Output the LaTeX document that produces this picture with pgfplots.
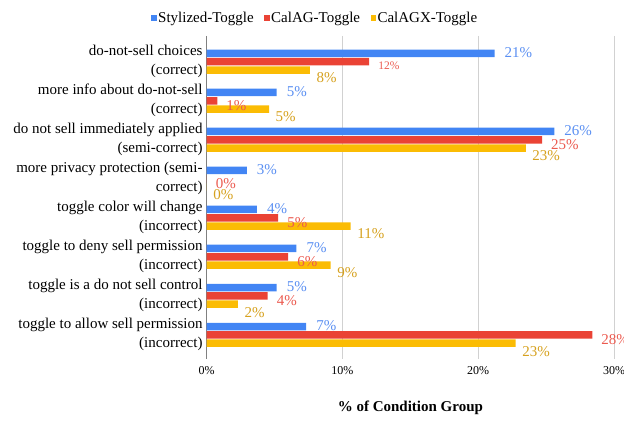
\documentclass[border=0pt]{standalone}
\usepackage{fontspec}
\setmainfont{Liberation Serif}
\usepackage{pgfplots}
\pgfplotsset{compat=1.18}
\definecolor{cblue}{HTML}{4285F4}
\definecolor{cred}{HTML}{EA4335}
\definecolor{cyel}{HTML}{FBBC04}
\definecolor{lblue}{HTML}{5A8FF2}
\definecolor{lred}{HTML}{EB5A4F}
\definecolor{lyel}{HTML}{D6A11E}
\begin{document}
\begin{tikzpicture}
\path (0,0) rectangle (624bp,-423bp);
\begin{axis}[
  at={(206.7bp,-359bp)}, anchor=south west,
  scale only axis, width=407.3bp, height=323bp,
  xbar=0.8bp, bar width=7.5bp,
  xmin=0, xmax=30, ymin=-0.66, ymax=7.62,
  y dir=reverse,
  clip=false,
  axis line style={draw=none},
  major tick length=0pt,
  xtick={10,20,30},
  extra x ticks={0},
  extra x tick style={grid style={draw=black!50, line width=1bp}},
  xmajorgrids,
  grid style={draw=black!18, line width=0.8bp},
  /pgf/number format/assume math mode=true,
  xticklabel={\pgfmathprintnumber{\tick}\%},
  xticklabel style={font=\fontsize{12bp}{14bp}\selectfont, yshift=-4bp},
  ytick={0,...,7},
  yticklabels={{do-not-sell choices\\(correct)},
    {more info about do-not-sell\\(correct)},
    {do not sell immediately applied\\(semi-correct)},
    {more privacy protection (semi-\\correct)},
    {toggle color will change\\(incorrect)},
    {toggle to deny sell permission\\(incorrect)},
    {toggle is a do not sell control\\(incorrect)},
    {toggle to allow sell permission\\(incorrect)}},
  yticklabel style={align=right, font=\fontsize{15bp}{19bp}\selectfont, inner sep=4bp},
  xlabel={\textbf{\% of Condition Group}},
  xlabel style={at={(axis description cs:0.5,0)}, anchor=center, yshift=-49bp, font=\fontsize{15bp}{18bp}\selectfont},
  legend columns=3,
  legend style={at={(0.266,1.0557)}, anchor=center, draw=none, fill=none,
    font=\fontsize{15bp}{18bp}\selectfont,
    nodes={inner sep=1.5bp},
    /tikz/every even column/.append style={column sep=9bp}},
  legend image code/.code={\fill[#1,draw=none] (0bp,-2.7bp) rectangle (5.4bp,2.7bp);},
  point meta=explicit symbolic,
  nodes near coords,
  every node near coord/.append style={anchor=west, inner sep=0pt, font=\fontsize{15bp}{18bp}\selectfont},
]
\addplot[fill=cblue, draw=none, bar shift=8.3bp, nodes near coords style={text=lblue, xshift=10bp, yshift=1bp}] coordinates {
(21.2,0) [21\%]
(5.15,1) [5\%]
(25.6,2) [26\%]
(2.95,3) [3\%]
(3.7,4) [4\%]
(6.6,5) [7\%]
(5.15,6) [5\%]
(7.33,7) [7\%]
};
\addplot[fill=cred, draw=none, bar shift=0bp, nodes near coords style={text=lred, xshift=9bp, yshift=-4.5bp}] coordinates {
(11.97,0) [{\fontsize{11.5bp}{13bp}\selectfont 12\%}]
(0.78,1) [1\%]
(24.7,2) [25\%]
(0,3) [0\%]
(5.27,4) [5\%]
(6.0,5) [6\%]
(4.49,6) [4\%]
(28.4,7) [28\%]
};
\addplot[fill=cyel, draw=none, bar shift=-8.3bp, nodes near coords style={text=lyel, xshift=6.5bp, yshift=-8bp}] coordinates {
(7.6,0) [8\%]
(4.59,1) [5\%]
(23.5,2) [23\%]
(0,3) [0\%]
(10.6,4) [11\%]
(9.13,5) [9\%]
(2.3,6) [2\%]
(22.75,7) [23\%]
};
\legend{Stylized-Toggle, CalAG-Toggle, CalAGX-Toggle}
\end{axis}
\pgfresetboundingbox
\path[use as bounding box] (0,0) rectangle (624bp,-423bp);
\end{tikzpicture}
\end{document}
